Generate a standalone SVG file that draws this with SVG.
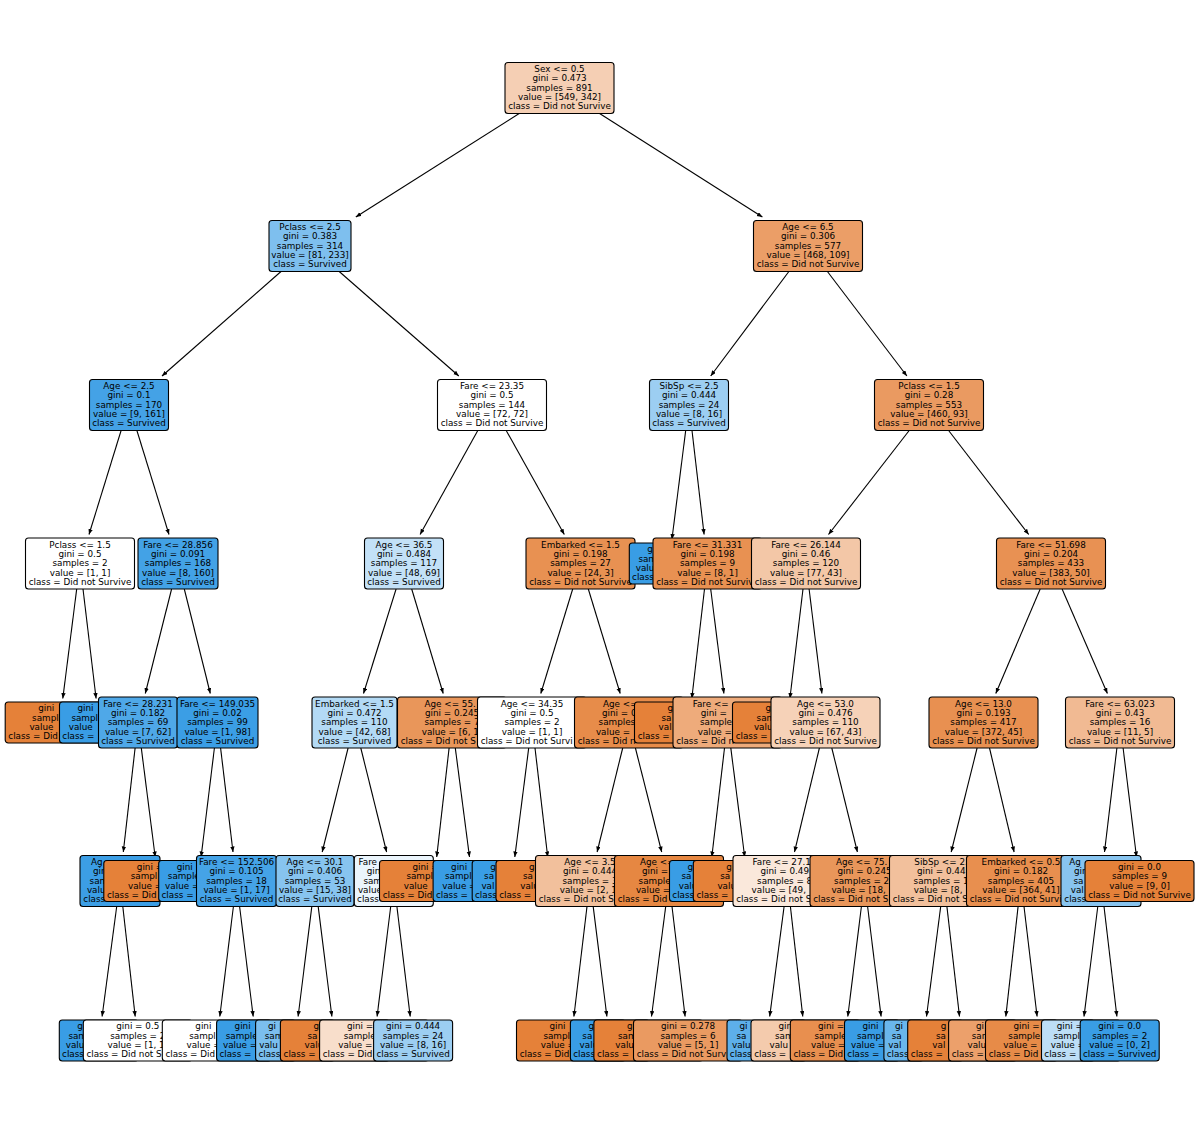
<svg xmlns="http://www.w3.org/2000/svg" width="1200" height="1128" viewBox="0 0 1200 1128">
<defs>
<style>
text{font-family:'DejaVu Sans','Liberation Sans',sans-serif;font-size:8.8px;fill:#000;text-anchor:middle}
text.s{text-anchor:start}
g rect{stroke:#000;stroke-width:1.1}
#edges line{stroke:#000;stroke-width:1.1;marker-end:url(#ah)}
</style>
<marker id="ah" markerUnits="userSpaceOnUse" markerWidth="6" markerHeight="5" refX="5.5" refY="2.2" orient="auto"><path d="M0,0 L5.5,2.2 L0,4.4 Z" fill="#000"/></marker>
</defs>
<rect x="0" y="0" width="1200" height="1128" fill="#fff"/>
<g id="edges">
<line x1="519.2" y1="113.5" x2="355.8" y2="217"/>
<line x1="599.6" y1="113.5" x2="762.4" y2="217"/>
<line x1="281" y1="271.5" x2="162" y2="376"/>
<line x1="339.2" y1="271.5" x2="458.8" y2="376"/>
<line x1="788.9" y1="271.5" x2="710.7" y2="376"/>
<line x1="827.4" y1="271.5" x2="906.9" y2="376"/>
<line x1="121.1" y1="430.5" x2="89" y2="534.5"/>
<line x1="136.9" y1="430.5" x2="169" y2="534.5"/>
<line x1="477.8" y1="430.5" x2="420.1" y2="534.5"/>
<line x1="506.2" y1="430.5" x2="564.3" y2="534.5"/>
<line x1="685.7" y1="430.5" x2="671.9" y2="539.5"/>
<line x1="692" y1="430.5" x2="704.1" y2="534.5"/>
<line x1="909.2" y1="430.5" x2="828.5" y2="534.5"/>
<line x1="948.6" y1="430.5" x2="1028.7" y2="534.5"/>
<line x1="76.7" y1="589" x2="62.8" y2="698.5"/>
<line x1="83" y1="589" x2="96.1" y2="698.5"/>
<line x1="171.6" y1="589" x2="145.3" y2="693.5"/>
<line x1="184.3" y1="589" x2="210.3" y2="693.5"/>
<line x1="396.1" y1="589" x2="363.5" y2="693.5"/>
<line x1="411.7" y1="589" x2="443.2" y2="693.5"/>
<line x1="572.7" y1="589" x2="540.8" y2="693.5"/>
<line x1="588.3" y1="589" x2="620.2" y2="693.5"/>
<line x1="704.5" y1="589" x2="691.8" y2="698.5"/>
<line x1="710.7" y1="589" x2="723.9" y2="693.5"/>
<line x1="803" y1="589" x2="789.9" y2="698.5"/>
<line x1="809.1" y1="589" x2="821.9" y2="693.5"/>
<line x1="1040.2" y1="589" x2="995.8" y2="693.5"/>
<line x1="1062.1" y1="589" x2="1107.4" y2="693.5"/>
<line x1="135.1" y1="748" x2="123.3" y2="852"/>
<line x1="141.3" y1="748" x2="155.2" y2="857"/>
<line x1="214.4" y1="748" x2="201.1" y2="857"/>
<line x1="220.6" y1="748" x2="233" y2="852"/>
<line x1="348.1" y1="748" x2="322.2" y2="852"/>
<line x1="360.8" y1="748" x2="386.6" y2="852"/>
<line x1="449.1" y1="748" x2="436.7" y2="857"/>
<line x1="455.3" y1="748" x2="469.5" y2="857"/>
<line x1="528.7" y1="748" x2="514.8" y2="857"/>
<line x1="535" y1="748" x2="547.7" y2="857"/>
<line x1="622.7" y1="748" x2="597.1" y2="852"/>
<line x1="635.4" y1="748" x2="661.7" y2="852"/>
<line x1="724.5" y1="748" x2="711.8" y2="857"/>
<line x1="730.8" y1="748" x2="744.7" y2="857"/>
<line x1="819.4" y1="748" x2="794.5" y2="852"/>
<line x1="831.8" y1="748" x2="857.4" y2="852"/>
<line x1="977.1" y1="748" x2="951.2" y2="852"/>
<line x1="989.5" y1="748" x2="1014.1" y2="852"/>
<line x1="1116.9" y1="748" x2="1104.5" y2="852"/>
<line x1="1123.1" y1="748" x2="1136.5" y2="857"/>
<line x1="116.7" y1="906.5" x2="102.1" y2="1016.5"/>
<line x1="122.8" y1="906.5" x2="135.2" y2="1016.5"/>
<line x1="233.4" y1="906.5" x2="219.8" y2="1016.5"/>
<line x1="239.6" y1="906.5" x2="253.2" y2="1016.5"/>
<line x1="311.8" y1="906.5" x2="298.1" y2="1016.5"/>
<line x1="318.2" y1="906.5" x2="331.9" y2="1016.5"/>
<line x1="390.7" y1="906.5" x2="377.1" y2="1016.5"/>
<line x1="396.9" y1="906.5" x2="410.2" y2="1016.5"/>
<line x1="587" y1="906.5" x2="573.9" y2="1016.5"/>
<line x1="593.2" y1="906.5" x2="606.9" y2="1016.5"/>
<line x1="665.7" y1="906.5" x2="651.5" y2="1016.5"/>
<line x1="672" y1="906.5" x2="685.1" y2="1016.5"/>
<line x1="784.1" y1="906.5" x2="769.7" y2="1016.5"/>
<line x1="790.4" y1="906.5" x2="802.8" y2="1016.5"/>
<line x1="861.4" y1="906.5" x2="847.8" y2="1016.5"/>
<line x1="867.6" y1="906.5" x2="881.1" y2="1016.5"/>
<line x1="940.7" y1="906.5" x2="926.5" y2="1016.5"/>
<line x1="946.9" y1="906.5" x2="959.5" y2="1016.5"/>
<line x1="1018.1" y1="906.5" x2="1005.8" y2="1016.5"/>
<line x1="1024" y1="906.5" x2="1037.1" y2="1016.5"/>
<line x1="1097.8" y1="906.5" x2="1084" y2="1016.5"/>
<line x1="1104" y1="906.5" x2="1116.9" y2="1016.5"/>
</g>
<g id="n0"><rect x="505" y="62.5" width="109" height="51" rx="3" fill="#f5cfb4"/><text x="559.5" y="72.3">Sex &lt;= 0.5</text><text x="559.5" y="81.3">gini = 0.473</text><text x="559.5" y="90.5">samples = 891</text><text x="559.5" y="100.2">value = [549, 342]</text><text x="559.5" y="109.1">class = Did not Survive</text></g>
<g id="n1"><rect x="269" y="220.5" width="82" height="51" rx="3" fill="#7ebfee"/><text x="310" y="230.3">Pclass &lt;= 2.5</text><text x="310" y="239.3">gini = 0.383</text><text x="310" y="248.5">samples = 314</text><text x="310" y="258.2">value = [81, 233]</text><text x="310" y="267.1">class = Survived</text></g>
<g id="n2"><rect x="89.5" y="379.5" width="79" height="51" rx="3" fill="#44a2e6"/><text x="129" y="389.3">Age &lt;= 2.5</text><text x="129" y="398.3">gini = 0.1</text><text x="129" y="407.5">samples = 170</text><text x="129" y="417.2">value = [9, 161]</text><text x="129" y="426.1">class = Survived</text></g>
<g id="n3"><rect x="25.5" y="538" width="109" height="51" rx="3" fill="#ffffff"/><text x="80" y="547.8">Pclass &lt;= 1.5</text><text x="80" y="556.8">gini = 0.5</text><text x="80" y="566">samples = 2</text><text x="80" y="575.7">value = [1, 1]</text><text x="80" y="584.6">class = Did not Survive</text></g>
<g id="n4"><rect x="5.2" y="702" width="109" height="41" rx="3" fill="#e58139"/><text class="s" x="38.2" y="711.3">gini</text><text class="s" x="32.1" y="720.5">sampl</text><text class="s" x="29.4" y="730.2">value</text><text class="s" x="8.35" y="739">class = Did</text></g>
<g id="n5"><rect x="59.5" y="702" width="79" height="41" rx="3" fill="#399de5"/><text class="s" x="77.5" y="711.3">gini</text><text class="s" x="71.4" y="720.5">sampl</text><text class="s" x="68.7" y="730.2">value</text><text class="s" x="62.3" y="739">class =</text></g>
<g id="n6"><rect x="138" y="538" width="80" height="51" rx="3" fill="#43a2e6"/><text x="178" y="547.8">Fare &lt;= 28.856</text><text x="178" y="556.8">gini = 0.091</text><text x="178" y="566">samples = 168</text><text x="178" y="575.7">value = [8, 160]</text><text x="178" y="584.6">class = Survived</text></g>
<g id="n7"><rect x="98.5" y="697" width="79" height="51" rx="3" fill="#4fa8e8"/><text x="138" y="706.8">Fare &lt;= 28.231</text><text x="138" y="715.8">gini = 0.182</text><text x="138" y="725">samples = 69</text><text x="138" y="734.7">value = [7, 62]</text><text x="138" y="743.6">class = Survived</text></g>
<g id="n8"><rect x="80" y="855.5" width="80" height="51" rx="3" fill="#3c9ee5"/><text class="s" x="91" y="865.3">Ag</text><text class="s" x="92.9" y="874.3">gin</text><text class="s" x="89.6" y="883.5">sam</text><text class="s" x="86.9" y="893.2">valu</text><text class="s" x="83.3" y="902.1">class</text></g>
<g id="n9"><rect x="59.3" y="1020" width="79" height="41" rx="3" fill="#399de5"/><text class="s" x="77.3" y="1029.3">gi</text><text class="s" x="68.4" y="1038.5">sam</text><text class="s" x="65.7" y="1048.2">valu</text><text class="s" x="62.1" y="1057">class</text></g>
<g id="n10"><rect x="83.3" y="1020" width="109" height="41" rx="3" fill="#ffffff"/><text x="137.8" y="1029.3">gini = 0.5</text><text x="137.8" y="1038.5">samples = 2</text><text class="s" x="107.5" y="1048.2">value = [1, 1</text><text class="s" x="86.45" y="1057">class = Did not S</text></g>
<g id="n11"><rect x="103.8" y="860.5" width="109" height="41" rx="3" fill="#e58139"/><text class="s" x="136.8" y="869.8">gini =</text><text class="s" x="130.7" y="879">sampl</text><text class="s" x="128" y="888.7">value =</text><text class="s" x="106.95" y="897.5">class = Did</text></g>
<g id="n12"><rect x="177" y="697" width="81" height="51" rx="3" fill="#3b9ee5"/><text x="217.5" y="706.8">Fare &lt;= 149.035</text><text x="217.5" y="715.8">gini = 0.02</text><text x="217.5" y="725">samples = 99</text><text x="217.5" y="734.7">value = [1, 98]</text><text x="217.5" y="743.6">class = Survived</text></g>
<g id="n13"><rect x="158.7" y="860.5" width="79" height="41" rx="3" fill="#399de5"/><text class="s" x="176.7" y="869.8">gini</text><text class="s" x="167.8" y="879">sample</text><text class="s" x="165.1" y="888.7">value =</text><text class="s" x="161.5" y="897.5">class =</text></g>
<g id="n14"><rect x="196.5" y="855.5" width="80" height="51" rx="3" fill="#45a3e7"/><text x="236.5" y="865.3">Fare &lt;= 152.506</text><text x="236.5" y="874.3">gini = 0.105</text><text x="236.5" y="883.5">samples = 18</text><text x="236.5" y="893.2">value = [1, 17]</text><text x="236.5" y="902.1">class = Survived</text></g>
<g id="n15"><rect x="162.3" y="1020" width="109" height="41" rx="3" fill="#ffffff"/><text class="s" x="195.3" y="1029.3">gini</text><text class="s" x="189.2" y="1038.5">sampl</text><text class="s" x="186.5" y="1048.2">value =</text><text class="s" x="165.45" y="1057">class = Did</text></g>
<g id="n16"><rect x="216.6" y="1020" width="79" height="41" rx="3" fill="#399de5"/><text class="s" x="234.6" y="1029.3">gini</text><text class="s" x="225.7" y="1038.5">sample</text><text class="s" x="223" y="1048.2">value =</text><text class="s" x="219.4" y="1057">class =</text></g>
<g id="n17"><rect x="437.5" y="379.5" width="109" height="51" rx="3" fill="#ffffff"/><text x="492" y="389.3">Fare &lt;= 23.35</text><text x="492" y="398.3">gini = 0.5</text><text x="492" y="407.5">samples = 144</text><text x="492" y="417.2">value = [72, 72]</text><text x="492" y="426.1">class = Did not Survive</text></g>
<g id="n18"><rect x="364.5" y="538" width="79" height="51" rx="3" fill="#c3e1f7"/><text x="404" y="547.8">Age &lt;= 36.5</text><text x="404" y="556.8">gini = 0.484</text><text x="404" y="566">samples = 117</text><text x="404" y="575.7">value = [48, 69]</text><text x="404" y="584.6">class = Survived</text></g>
<g id="n19"><rect x="312" y="697" width="85" height="51" rx="3" fill="#b3daf5"/><text x="354.5" y="706.8">Embarked &lt;= 1.5</text><text x="354.5" y="715.8">gini = 0.472</text><text x="354.5" y="725">samples = 110</text><text x="354.5" y="734.7">value = [42, 68]</text><text x="354.5" y="743.6">class = Survived</text></g>
<g id="n20"><rect x="276" y="855.5" width="78" height="51" rx="3" fill="#87c4ef"/><text x="315" y="865.3">Age &lt;= 30.1</text><text x="315" y="874.3">gini = 0.406</text><text x="315" y="883.5">samples = 53</text><text x="315" y="893.2">value = [15, 38]</text><text x="315" y="902.1">class = Survived</text></g>
<g id="n21"><rect x="255.6" y="1020" width="79" height="41" rx="3" fill="#7bbeee"/><text class="s" x="268" y="1029.3">gi</text><text class="s" x="264.7" y="1038.5">sam</text><text class="s" x="259.2" y="1048.2">valu</text><text class="s" x="258.4" y="1057">class</text></g>
<g id="n22"><rect x="280.4" y="1020" width="109" height="41" rx="3" fill="#e58139"/><text class="s" x="313.4" y="1029.3">g</text><text class="s" x="307.4" y="1038.5">sa</text><text class="s" x="304.6" y="1048.2">valu</text><text class="s" x="283.55" y="1057">class =</text></g>
<g id="n23"><rect x="354.3" y="855.5" width="79" height="51" rx="3" fill="#ebf5fc"/><text class="s" x="358.5" y="865.3">Fare</text><text class="s" x="366.7" y="874.3">gin</text><text class="s" x="363.4" y="883.5">sam</text><text class="s" x="357.9" y="893.2">value</text><text class="s" x="357.1" y="902.1">class</text></g>
<g id="n24"><rect x="319.6" y="1020" width="109" height="41" rx="3" fill="#f8decb"/><text class="s" x="347" y="1029.3">gini =</text><text class="s" x="343.7" y="1038.5">sample</text><text class="s" x="338.2" y="1048.2">value =</text><text class="s" x="322.75" y="1057">class = Did</text></g>
<g id="n25"><rect x="373.6" y="1020" width="79" height="41" rx="3" fill="#9ccef2"/><text x="413.1" y="1029.3">gini = 0.444</text><text x="413.1" y="1038.5">samples = 24</text><text x="413.1" y="1048.2">value = [8, 16]</text><text x="413.1" y="1057">class = Survived</text></g>
<g id="n26"><rect x="397.5" y="697" width="109" height="51" rx="3" fill="#e9965a"/><text class="s" x="424.5" y="706.8">Age &lt;= 55.</text><text x="452" y="715.8">gini = 0.245</text><text x="452" y="725">samples = 7</text><text class="s" x="421.7" y="734.7">value = [6, 1</text><text class="s" x="400.65" y="743.6">class = Did not S</text></g>
<g id="n27"><rect x="379.5" y="860.5" width="109" height="41" rx="3" fill="#e58139"/><text class="s" x="412.5" y="869.8">gini =</text><text class="s" x="406.4" y="879">sampl</text><text class="s" x="403.7" y="888.7">value</text><text class="s" x="382.65" y="897.5">class = Did</text></g>
<g id="n28"><rect x="433.1" y="860.5" width="79" height="41" rx="3" fill="#399de5"/><text class="s" x="451.1" y="869.8">gini</text><text class="s" x="445" y="879">sampl</text><text class="s" x="442.3" y="888.7">value =</text><text class="s" x="435.9" y="897.5">class =</text></g>
<g id="n29"><rect x="526" y="538" width="109" height="51" rx="3" fill="#e89152"/><text x="580.5" y="547.8">Embarked &lt;= 1.5</text><text x="580.5" y="556.8">gini = 0.198</text><text x="580.5" y="566">samples = 27</text><text x="580.5" y="575.7">value = [24, 3]</text><text x="580.5" y="584.6">class = Did not Survive</text></g>
<g id="n30"><rect x="477.5" y="697" width="109" height="51" rx="3" fill="#ffffff"/><text x="532" y="706.8">Age &lt;= 34.35</text><text x="532" y="715.8">gini = 0.5</text><text x="532" y="725">samples = 2</text><text x="532" y="734.7">value = [1, 1]</text><text class="s" x="480.65" y="743.6">class = Did not Survi</text></g>
<g id="n31"><rect x="472.2" y="860.5" width="79" height="41" rx="3" fill="#399de5"/><text class="s" x="490.2" y="869.8">g</text><text class="s" x="484.1" y="879">sa</text><text class="s" x="481.4" y="888.7">val</text><text class="s" x="475" y="897.5">class</text></g>
<g id="n32"><rect x="496" y="860.5" width="109" height="41" rx="3" fill="#e58139"/><text class="s" x="529" y="869.8">g</text><text class="s" x="522.9" y="879">sa</text><text class="s" x="520.2" y="888.7">valu</text><text class="s" x="499.15" y="897.5">class =</text></g>
<g id="n33"><rect x="574.5" y="697" width="109" height="51" rx="3" fill="#e78c4a"/><text class="s" x="603" y="706.8">Age &lt;=</text><text class="s" x="601.9" y="715.8">gini = 0</text><text class="s" x="598.6" y="725">samples</text><text class="s" x="595.9" y="734.7">value =</text><text class="s" x="577.65" y="743.6">class = Did n</text></g>
<g id="n34"><rect x="535.5" y="855.5" width="109" height="51" rx="3" fill="#f2c09c"/><text x="590" y="865.3">Age &lt;= 3.5</text><text x="590" y="874.3">gini = 0.444</text><text x="590" y="883.5">samples = 3</text><text class="s" x="559.7" y="893.2">value = [2, 1</text><text class="s" x="538.65" y="902.1">class = Did not S</text></g>
<g id="n35"><rect x="516.5" y="1020" width="109" height="41" rx="3" fill="#e58139"/><text class="s" x="549.5" y="1029.3">gini</text><text class="s" x="543.4" y="1038.5">sampl</text><text class="s" x="540.7" y="1048.2">value =</text><text class="s" x="519.65" y="1057">class = Did</text></g>
<g id="n36"><rect x="570.4" y="1020" width="79" height="41" rx="3" fill="#399de5"/><text class="s" x="588.4" y="1029.3">g</text><text class="s" x="582.3" y="1038.5">sa</text><text class="s" x="579.6" y="1048.2">valu</text><text class="s" x="573.2" y="1057">class</text></g>
<g id="n37"><rect x="614.5" y="855.5" width="109" height="51" rx="3" fill="#e68742"/><text class="s" x="640" y="865.3">Age &lt;=</text><text class="s" x="641.9" y="874.3">gini =</text><text class="s" x="638.6" y="883.5">sample</text><text class="s" x="635.9" y="893.2">value =</text><text class="s" x="617.65" y="902.1">class = Did</text></g>
<g id="n38"><rect x="593.9" y="1020" width="109" height="41" rx="3" fill="#e58139"/><text class="s" x="626.9" y="1029.3">g</text><text class="s" x="618" y="1038.5">sam</text><text class="s" x="615.3" y="1048.2">valu</text><text class="s" x="597.05" y="1057">class =</text></g>
<g id="n39"><rect x="633.5" y="1020" width="109" height="41" rx="3" fill="#ea9a61"/><text x="688" y="1029.3">gini = 0.278</text><text x="688" y="1038.5">samples = 6</text><text x="688" y="1048.2">value = [5, 1]</text><text class="s" x="636.65" y="1057">class = Did not Surv</text></g>
<g id="n40"><rect x="753.5" y="220.5" width="109" height="51" rx="3" fill="#eb9e67"/><text x="808" y="230.3">Age &lt;= 6.5</text><text x="808" y="239.3">gini = 0.306</text><text x="808" y="248.5">samples = 577</text><text x="808" y="258.2">value = [468, 109]</text><text x="808" y="267.1">class = Did not Survive</text></g>
<g id="n41"><rect x="649.5" y="379.5" width="79" height="51" rx="3" fill="#9ccef2"/><text x="689" y="389.3">SibSp &lt;= 2.5</text><text x="689" y="398.3">gini = 0.444</text><text x="689" y="407.5">samples = 24</text><text x="689" y="417.2">value = [8, 16]</text><text x="689" y="426.1">class = Survived</text></g>
<g id="n42"><rect x="629.3" y="543" width="79" height="41" rx="3" fill="#399de5"/><text class="s" x="647.3" y="552.3">g</text><text class="s" x="638.4" y="561.5">sam</text><text class="s" x="635.7" y="571.2">valu</text><text class="s" x="632.1" y="580">class</text></g>
<g id="n43"><rect x="653" y="538" width="109" height="51" rx="3" fill="#e89152"/><text x="707.5" y="547.8">Fare &lt;= 31.331</text><text x="707.5" y="556.8">gini = 0.198</text><text x="707.5" y="566">samples = 9</text><text x="707.5" y="575.7">value = [8, 1]</text><text class="s" x="656.15" y="584.6">class = Did not Surviv</text></g>
<g id="n44"><rect x="634.5" y="702" width="109" height="41" rx="3" fill="#e58139"/><text class="s" x="667.5" y="711.3">g</text><text class="s" x="661.4" y="720.5">sa</text><text class="s" x="658.6" y="730.2">val</text><text class="s" x="637.65" y="739">class =</text></g>
<g id="n45"><rect x="673" y="697" width="109" height="51" rx="3" fill="#eeab7b"/><text class="s" x="692.7" y="706.8">Fare &lt;=</text><text class="s" x="700.7" y="715.8">gini =</text><text class="s" x="700" y="725">sample</text><text class="s" x="697.7" y="734.7">value =</text><text class="s" x="676.15" y="743.6">class = Did n</text></g>
<g id="n46"><rect x="669.5" y="860.5" width="79" height="41" rx="3" fill="#399de5"/><text class="s" x="687.5" y="869.8">g</text><text class="s" x="681.4" y="879">sa</text><text class="s" x="678.7" y="888.7">valu</text><text class="s" x="672.3" y="897.5">class</text></g>
<g id="n47"><rect x="693.3" y="860.5" width="109" height="41" rx="3" fill="#e58139"/><text class="s" x="726.3" y="869.8">g</text><text class="s" x="720.2" y="879">sa</text><text class="s" x="717.4" y="888.7">valu</text><text class="s" x="696.45" y="897.5">class =</text></g>
<g id="n48"><rect x="874.5" y="379.5" width="109" height="51" rx="3" fill="#ea9a61"/><text x="929" y="389.3">Pclass &lt;= 1.5</text><text x="929" y="398.3">gini = 0.28</text><text x="929" y="407.5">samples = 553</text><text x="929" y="417.2">value = [460, 93]</text><text x="929" y="426.1">class = Did not Survive</text></g>
<g id="n49"><rect x="751.5" y="538" width="109" height="51" rx="3" fill="#f3c7a7"/><text x="806" y="547.8">Fare &lt;= 26.144</text><text x="806" y="556.8">gini = 0.46</text><text x="806" y="566">samples = 120</text><text x="806" y="575.7">value = [77, 43]</text><text x="806" y="584.6">class = Did not Survive</text></g>
<g id="n50"><rect x="732.5" y="702" width="109" height="41" rx="3" fill="#e58139"/><text class="s" x="765.5" y="711.3">g</text><text class="s" x="756.6" y="720.5">sam</text><text class="s" x="753.9" y="730.2">valu</text><text class="s" x="735.65" y="739">class =</text></g>
<g id="n51"><rect x="771" y="697" width="109" height="51" rx="3" fill="#f6d2b8"/><text x="825.5" y="706.8">Age &lt;= 53.0</text><text x="825.5" y="715.8">gini = 0.476</text><text x="825.5" y="725">samples = 110</text><text x="825.5" y="734.7">value = [67, 43]</text><text x="825.5" y="743.6">class = Did not Survive</text></g>
<g id="n52"><rect x="733" y="855.5" width="109" height="51" rx="3" fill="#fae8db"/><text class="s" x="752.5" y="865.3">Fare &lt;= 27.1</text><text class="s" x="760.4" y="874.3">gini = 0.49</text><text class="s" x="757.1" y="883.5">samples = 8</text><text class="s" x="751.6" y="893.2">value = [49,</text><text class="s" x="736.15" y="902.1">class = Did not S</text></g>
<g id="n53"><rect x="727" y="1020" width="79" height="41" rx="3" fill="#5dafea"/><text class="s" x="739.4" y="1029.3">gi</text><text class="s" x="736.5" y="1038.5">sa</text><text class="s" x="732" y="1048.2">valu</text><text class="s" x="729.8" y="1057">class</text></g>
<g id="n54"><rect x="751" y="1020" width="109" height="41" rx="3" fill="#f4cbad"/><text class="s" x="778.4" y="1029.3">gin</text><text class="s" x="775" y="1038.5">sam</text><text class="s" x="769.5" y="1048.2">valu</text><text class="s" x="754.15" y="1057">class =</text></g>
<g id="n55"><rect x="810" y="855.5" width="109" height="51" rx="3" fill="#e9965a"/><text class="s" x="836" y="865.3">Age &lt;= 75.</text><text x="864.5" y="874.3">gini = 0.245</text><text class="s" x="834.1" y="883.5">samples = 2</text><text class="s" x="831.4" y="893.2">value = [18,</text><text class="s" x="813.15" y="902.1">class = Did not S</text></g>
<g id="n56"><rect x="790.3" y="1020" width="109" height="41" rx="3" fill="#e88f4f"/><text class="s" x="818" y="1029.3">gini =</text><text class="s" x="814.5" y="1038.5">sample</text><text class="s" x="811" y="1048.2">value =</text><text class="s" x="793.45" y="1057">class = Did</text></g>
<g id="n57"><rect x="844.5" y="1020" width="79" height="41" rx="3" fill="#399de5"/><text class="s" x="862.5" y="1029.3">gini</text><text class="s" x="857" y="1038.5">sampl</text><text class="s" x="851" y="1048.2">value =</text><text class="s" x="847.3" y="1057">class =</text></g>
<g id="n58"><rect x="996.5" y="538" width="109" height="51" rx="3" fill="#e89153"/><text x="1051" y="547.8">Fare &lt;= 51.698</text><text x="1051" y="556.8">gini = 0.204</text><text x="1051" y="566">samples = 433</text><text x="1051" y="575.7">value = [383, 50]</text><text x="1051" y="584.6">class = Did not Survive</text></g>
<g id="n59"><rect x="929" y="697" width="109" height="51" rx="3" fill="#e89051"/><text x="983.5" y="706.8">Age &lt;= 13.0</text><text x="983.5" y="715.8">gini = 0.193</text><text x="983.5" y="725">samples = 417</text><text x="983.5" y="734.7">value = [372, 45]</text><text x="983.5" y="743.6">class = Did not Survive</text></g>
<g id="n60"><rect x="889.5" y="855.5" width="109" height="51" rx="3" fill="#f2c09c"/><text class="s" x="914.3" y="865.3">SibSp &lt;= 2.</text><text class="s" x="916.9" y="874.3">gini = 0.44</text><text class="s" x="913.6" y="883.5">samples = 1</text><text class="s" x="913.7" y="893.2">value = [8,</text><text class="s" x="892.65" y="902.1">class = Did not S</text></g>
<g id="n61"><rect x="883.9" y="1020" width="79" height="41" rx="3" fill="#6ab6ec"/><text class="s" x="895" y="1029.3">gi</text><text class="s" x="891.7" y="1038.5">sa</text><text class="s" x="888.3" y="1048.2">val</text><text class="s" x="886.65" y="1057">class</text></g>
<g id="n62"><rect x="907.7" y="1020" width="109" height="41" rx="3" fill="#e58139"/><text class="s" x="940.7" y="1029.3">g</text><text class="s" x="936" y="1038.5">sa</text><text class="s" x="932.3" y="1048.2">val</text><text class="s" x="910.85" y="1057">class =</text></g>
<g id="n63"><rect x="966.5" y="855.5" width="109" height="51" rx="3" fill="#e88f4f"/><text x="1021" y="865.3">Embarked &lt;= 0.5</text><text x="1021" y="874.3">gini = 0.182</text><text x="1021" y="883.5">samples = 405</text><text x="1021" y="893.2">value = [364, 41]</text><text class="s" x="969.65" y="902.1">class = Did not Survi</text></g>
<g id="n64"><rect x="948.6" y="1020" width="109" height="41" rx="3" fill="#eca06b"/><text class="s" x="976" y="1029.3">gi</text><text class="s" x="971.7" y="1038.5">sam</text><text class="s" x="967.5" y="1048.2">valu</text><text class="s" x="951.75" y="1057">class =</text></g>
<g id="n65"><rect x="985.5" y="1020" width="109" height="41" rx="3" fill="#e78b48"/><text class="s" x="1013.5" y="1029.3">gini =</text><text class="s" x="1008.3" y="1038.5">sample</text><text class="s" x="1003.3" y="1048.2">value =</text><text class="s" x="988.65" y="1057">class = Did</text></g>
<g id="n66"><rect x="1065.5" y="697" width="109" height="51" rx="3" fill="#f1ba93"/><text x="1120" y="706.8">Fare &lt;= 63.023</text><text x="1120" y="715.8">gini = 0.43</text><text x="1120" y="725">samples = 16</text><text x="1120" y="734.7">value = [11, 5]</text><text x="1120" y="743.6">class = Did not Survive</text></g>
<g id="n67"><rect x="1061" y="855.5" width="80" height="51" rx="3" fill="#88c4ef"/><text class="s" x="1069.3" y="865.3">Ag</text><text class="s" x="1073.9" y="874.3">gin</text><text class="s" x="1073.4" y="883.5">sa</text><text class="s" x="1070.7" y="893.2">val</text><text class="s" x="1064.3" y="902.1">class</text></g>
<g id="n68"><rect x="1041.5" y="1020" width="79" height="41" rx="3" fill="#bddef6"/><text class="s" x="1056.7" y="1029.3">gini =</text><text class="s" x="1053.4" y="1038.5">sampl</text><text class="s" x="1050.7" y="1048.2">value =</text><text class="s" x="1044.3" y="1057">class =</text></g>
<g id="n69"><rect x="1080.2" y="1020" width="79" height="41" rx="3" fill="#399de5"/><text x="1119.7" y="1029.3">gini = 0.0</text><text x="1119.7" y="1038.5">samples = 2</text><text x="1119.7" y="1048.2">value = [0, 2]</text><text x="1119.7" y="1057">class = Survived</text></g>
<g id="n70"><rect x="1085" y="860.5" width="109" height="41" rx="3" fill="#e58139"/><text x="1139.5" y="869.8">gini = 0.0</text><text x="1139.5" y="879">samples = 9</text><text x="1139.5" y="888.7">value = [9, 0]</text><text x="1139.5" y="897.5">class = Did not Survive</text></g>
</svg>
